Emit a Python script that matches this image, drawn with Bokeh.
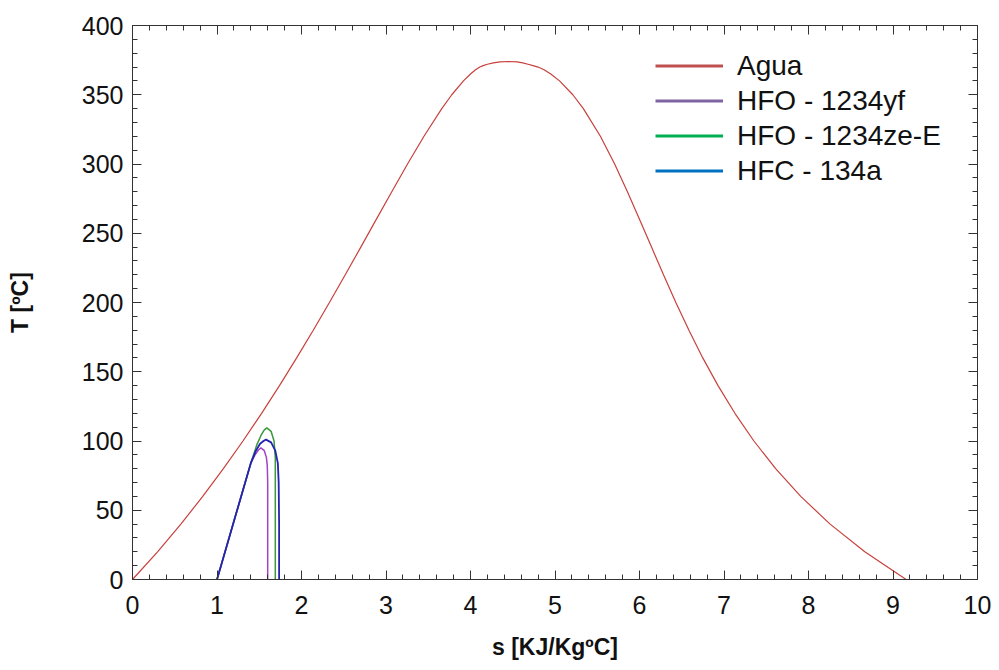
from bokeh.plotting import figure
from bokeh.models import (LinearAxis, SingleIntervalTicker, Range1d, Legend, LegendItem,
                          CustomJSTickFormatter)
from bokeh.embed import file_html
from bokeh.resources import INLINE

# Water saturation dome (T in ºC, s in kJ/kg·ºC)
agua_T = [0, 20, 40, 60, 80, 100, 120, 140, 160, 180, 200, 220, 240, 260, 280, 300,
          320, 340, 350, 360, 365, 368, 370, 371, 372, 373, 373.7, 374.0,
          373.7, 373, 372, 371, 370, 368, 365, 360, 350, 340, 320, 300, 280, 260, 240, 220,
          200, 180, 160, 140, 120, 100, 80, 60, 40, 20, 0]
agua_s = [0.0, 0.2965, 0.5724, 0.8312, 1.0754, 1.3072, 1.5279, 1.7392, 1.9426, 2.1392,
          2.3305, 2.5177, 2.7020, 2.8849, 3.0685, 3.2548, 3.4494, 3.6601, 3.7784, 3.9167,
          4.00, 4.06, 4.11, 4.15, 4.20, 4.27, 4.35, 4.45,
          4.55, 4.62, 4.68, 4.74, 4.80, 4.87, 4.95, 5.0536, 5.2110, 5.3356, 5.5372, 5.7059,
          5.8571, 6.0010, 6.1423, 6.2840, 6.4302, 6.5850, 6.7488, 6.9294, 7.1292, 7.3542,
          7.6111, 7.9082, 8.2557, 8.6661, 9.1556]

# HFO-1234yf
yf_s = [1.0, 1.1, 1.2, 1.3, 1.4, 1.45, 1.49, 1.52, 1.56, 1.585, 1.595, 1.60, 1.60, 1.60]
yf_T = [0, 21, 42, 63, 84, 90, 93.5, 95, 93, 88, 82, 70, 40, 0]

# HFO-1234ze-E
ze_s = [1.0, 1.1, 1.2, 1.3, 1.4, 1.47, 1.52, 1.56, 1.59, 1.64, 1.675, 1.69, 1.69, 1.69]
ze_T = [0, 21, 42, 63, 84, 97, 104, 108, 109.5, 107, 100, 88, 50, 0]

# HFC-134a
r134_s = [1.0, 1.1, 1.2, 1.3, 1.4, 1.46, 1.51, 1.55, 1.58, 1.64, 1.69, 1.72, 1.73, 1.735, 1.735]
r134_T = [0, 21, 42, 63, 84, 93, 98, 100, 101, 99, 93, 84, 70, 40, 0]

labels = ["Agua", "HFO - 1234yf", "HFO - 1234ze-E", "HFC - 134a"]
line_colors = ["#c8403c", "#a044c8", "#3c963c", "#2424b0"]
legend_colors = ["#c0504d", "#8064a2", "#00b050", "#0070c0"]

FONT = "Liberation Sans"
W, H = 993, 662
FL, FR, FT, FB = 132, 977, 25, 588

p = figure(width=W, height=H, output_backend="svg", toolbar_location=None,
           x_range=Range1d(0, 10), y_range=Range1d(0, 400),
           min_border_left=FL, min_border_top=FT, min_border_right=W - FR,
           min_border_bottom=H - FB)
p.outline_line_color = None
p.xgrid.visible = False
p.ygrid.visible = False
p.xaxis.visible = False
p.yaxis.visible = False

xt = SingleIntervalTicker(interval=1, num_minor_ticks=5)
yt = SingleIntervalTicker(interval=50, num_minor_ticks=5)


def style(ax, show_labels):
    ax.axis_line_color = "#333333"
    ax.axis_line_width = 1
    ax.major_tick_in = 9
    ax.major_tick_out = 0
    ax.minor_tick_in = 5
    ax.minor_tick_out = 0
    ax.major_tick_line_color = "#333333"
    ax.minor_tick_line_color = "#333333"
    if show_labels:
        ax.major_label_text_font = FONT
        ax.major_label_text_font_size = "25px"
        ax.major_label_text_color = "#111111"
        ax.axis_label_text_font = FONT
        ax.axis_label_text_font_style = "bold"
        ax.axis_label_text_font_size = "23px"
        ax.axis_label_text_color = "#111111"
    else:
        ax.formatter = CustomJSTickFormatter(code="return ''")
        ax.major_label_standoff = 0
        ax.axis_label = None


xb = LinearAxis(ticker=xt, axis_label="s [KJ/KgºC]")
style(xb, True)
xb.major_label_standoff = 16
xb.axis_label_standoff = 17
p.add_layout(xb, "below")

yl = LinearAxis(ticker=yt, axis_label="T [ºC]")
style(yl, True)
yl.major_label_standoff = 9
yl.axis_label_standoff = 46
p.add_layout(yl, "left")

xa = LinearAxis(ticker=xt)
style(xa, False)
p.add_layout(xa, "above")
yr = LinearAxis(ticker=yt)
style(yr, False)
p.add_layout(yr, "right")

series = [(agua_s, agua_T), (yf_s, yf_T), (ze_s, ze_T), (r134_s, r134_T)]
widths = [1.2, 1.5, 1.5, 1.8]
for (s, T), c, w in zip(series, line_colors, widths):
    p.line(s, T, line_color=c, line_width=w)

nan = float("nan")
items = []
for lab, c in zip(labels, legend_colors):
    r = p.line([nan], [nan], line_color=c, line_width=3)
    items.append(LegendItem(label=lab, renderers=[r]))

leg = Legend(items=items)
leg.border_line_color = None
leg.background_fill_alpha = 0
leg.label_text_font = FONT
leg.label_text_font_size = "28px"
leg.label_text_color = "#111111"
leg.glyph_width = 68
leg.glyph_height = 35
leg.label_height = 35
leg.label_standoff = 14
leg.spacing = 0
leg.padding = 0
leg.margin = 0
leg.location = (655 - FL, FB - 197)
p.add_layout(leg, "center")

open("out.html", "w").write(file_html(p, INLINE))
